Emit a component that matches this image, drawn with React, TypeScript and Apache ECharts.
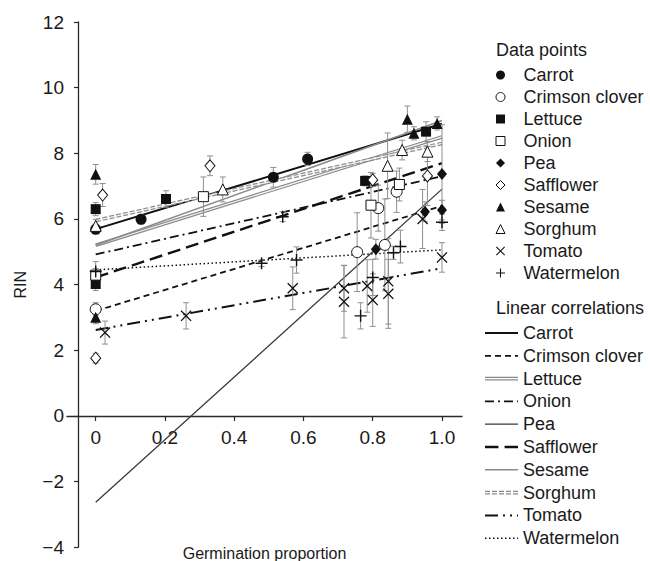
import React, { useEffect, useRef } from "react";
import * as echarts from "echarts";

const FONT = "'Liberation Sans', Arial, Helvetica, sans-serif";
const INK = "#1a1a1a";
const BAR_GRAY = "#8f8f8f";
const FIT_GRAY = "#8a8a8a";

// Axis ticks
const xTickValues = [0, 0.2, 0.4, 0.6, 0.8, 1.0];
const xTickLabels = ["0", "0.2", "0.4", "0.6", "0.8", "1.0"];

const speciesNames = [
  "Carrot",
  "Crimson clover",
  "Lettuce",
  "Onion",
  "Pea",
  "Safflower",
  "Sesame",
  "Sorghum",
  "Tomato",
  "Watermelon",
];

// Observations: [germination proportion, RIN, error]
const carrotPoints = [[0, 5.69, 0.15], [0.131, 5.99, 0.15], [0.513, 7.27, 0.3], [0.612, 7.83, 0.2]];
const crimsonCloverPoints = [[0, 3.25, 0.2], [0.755, 4.99, 1.2], [0.816, 6.33, 0.7], [0.835, 5.21, 1.4], [0.869, 6.83, 0.63]];
const lettucePoints = [[0, 6.3, 0.2], [0, 4.02, 0.2], [0.203, 6.61, 0.25], [0.778, 7.16, 0.15], [0.954, 8.66, 0.3]];
const onionPoints = [[0, 4.29, 0.2], [0.311, 6.68, 0.6], [0.795, 6.42, 1.0], [0.877, 7.05, 0.5]];
const peaPoints = [[0.809, 5.08, 0.3], [0.951, 6.22, 0.3], [1.0, 6.27, 0.3], [1.0, 7.37, 1.5]];
const safflowerPoints = [[0, 1.76, 0.15], [0.02, 6.73, 0.35], [0.33, 7.62, 0.3], [0.8, 7.19, 0.2], [0.958, 7.31, 0.9]];
const sesamePoints = [[0, 7.36, 0.3], [0, 3.01, 0.2], [0.9, 9.04, 0.4], [0.919, 8.61, 0.2], [0.986, 8.91, 0.2]];
const sorghumPoints = [[0, 5.79, 0.2], [0.367, 6.9, 0.38], [0.843, 7.62, 1.0], [0.885, 8.1, 0.3], [0.958, 8.05, 0.3]];
const tomatoPoints = [
  [0.027, 2.54, 0.35], [0.261, 3.05, 0.4], [0.569, 3.89, 0.65], [0.717, 3.89, 0.7], [0.717, 3.48, 1.1],
  [0.784, 3.96, 0.8], [0.8, 3.53, 0.8], [0.845, 4.1, 1.3], [0.845, 3.72, 1.05], [0.944, 6.0, 0.9], [1.0, 4.83, 0.45],
];
const watermelonPoints = [
  [0, 4.4, 0.3], [0.479, 4.65, 0.1], [0.54, 6.07, 0.15], [0.58, 4.75, 0.4], [0.765, 3.05, 0.4],
  [0.8, 4.22, 0.55], [0.86, 4.97, 0.2], [0.88, 5.16, 0.5], [1.0, 5.9, 0.25],
];

// Fitted linear correlations: endpoints at germination proportion 0 and 1
const carrotFit = [[0, 5.69], [1, 8.9]];
const crimsonCloverFit = [[0, 3.2], [1, 6.4]];
const lettuceFit = [[0, 5.2], [1, 8.5]];
const onionFit = [[0, 4.92], [1, 7.3]];
const peaFit = [[0, -2.63], [1, 6.91]];
const safflowerFit = [[0, 4.22], [1, 7.7]];
const sesameFit = [[0, 5.2], [1, 9.0]];
const sorghumFit = [[0, 5.95], [1, 8.3]];
const tomatoFit = [[0, 2.62], [1, 4.5]];
const watermelonFit = [[0, 4.45], [1, 5.06]];

const pointsBySpecies: Record<string, number[][]> = {
  Carrot: carrotPoints,
  "Crimson clover": crimsonCloverPoints,
  Lettuce: lettucePoints,
  Onion: onionPoints,
  Pea: peaPoints,
  Safflower: safflowerPoints,
  Sesame: sesamePoints,
  Sorghum: sorghumPoints,
  Tomato: tomatoPoints,
  Watermelon: watermelonPoints,
};

const fitBySpecies: Record<string, number[][]> = {
  Carrot: carrotFit,
  "Crimson clover": crimsonCloverFit,
  Lettuce: lettuceFit,
  Onion: onionFit,
  Pea: peaFit,
  Safflower: safflowerFit,
  Sesame: sesameFit,
  Sorghum: sorghumFit,
  Tomato: tomatoFit,
  Watermelon: watermelonFit,
};

// Marker shapes
const X_MARK = "path://M0,1L1,0L6,5L11,0L12,1L7,6L12,11L11,12L6,7L1,12L0,11L5,6Z";
const PLUS_MARK = "path://M5.3,0H6.7V5.3H12V6.7H6.7V12H5.3V6.7H0V5.3H5.3Z";

type Marker = { symbol: string; size: number | number[]; filled: boolean };
const markerStyle: Record<string, Marker> = {
  Carrot: { symbol: "circle", size: 11, filled: true },
  "Crimson clover": { symbol: "circle", size: 11, filled: false },
  Lettuce: { symbol: "rect", size: 10, filled: true },
  Onion: { symbol: "rect", size: 10, filled: false },
  Pea: { symbol: "diamond", size: [10, 12], filled: true },
  Safflower: { symbol: "diamond", size: [10, 12], filled: false },
  Sesame: { symbol: "triangle", size: 11, filled: true },
  Sorghum: { symbol: "triangle", size: 11, filled: false },
  Tomato: { symbol: X_MARK, size: 11, filled: true },
  Watermelon: { symbol: PLUS_MARK, size: 12, filled: true },
};

type FitLook = { color: string; width: number; dash: number[] | null; core?: boolean };
const fitStyle: Record<string, FitLook> = {
  Carrot: { color: "#111", width: 2, dash: null },
  "Crimson clover": { color: "#111", width: 1.8, dash: [6, 4] },
  Lettuce: { color: FIT_GRAY, width: 3.6, dash: null, core: true },
  Onion: { color: "#111", width: 1.8, dash: [9, 4, 2, 4] },
  Pea: { color: "#3a3a3a", width: 1.3, dash: null },
  Safflower: { color: "#111", width: 2.4, dash: [13, 6] },
  Sesame: { color: FIT_GRAY, width: 1.6, dash: null },
  Sorghum: { color: FIT_GRAY, width: 3.6, dash: [5, 2], core: true },
  Tomato: { color: "#111", width: 2, dash: [13, 5, 2, 5, 2, 5] },
  Watermelon: { color: "#111", width: 1.5, dash: [1.5, 2.5] },
};

const FIT_SUFFIX = " (linear)";
const fitName = (s: string) => s + FIT_SUFFIX;

// Legend sample strokes, built as filled strips so the dash rhythm is exact
const SAMPLE_W = 33;
function strip(x0: number, x1: number, y0: number, y1: number) {
  return `M${x0},${y0}H${x1}V${y1}H${x0}Z`;
}
function sampleIcon(look: FitLook): string {
  const segs: number[][] = [];
  if (!look.dash) {
    segs.push([0, SAMPLE_W]);
  } else {
    let x = 0;
    let k = 0;
    while (x < SAMPLE_W) {
      const len = look.dash[k % look.dash.length];
      if (k % 2 === 0) segs.push([x, Math.min(SAMPLE_W, x + len)]);
      x += len;
      k++;
    }
  }
  let d = "path://";
  if (look.core) {
    segs.forEach(([a, b]) => {
      d += strip(a, b, 0, 1.2) + strip(a, b, 2.6, 3.8);
    });
  } else {
    segs.forEach(([a, b]) => {
      d += strip(a, b, 0, look.width);
    });
  }
  return d;
}

function buildOption(): any {
  const series: any[] = [];

  speciesNames.forEach((s) => {
    const st = fitStyle[s];
    series.push({
      name: fitName(s),
      type: "line",
      data: fitBySpecies[s],
      symbol: "none",
      showSymbol: false,
      silent: true,
      z: 2,
      color: st.color,
      itemStyle: { color: st.color },
      lineStyle: { color: st.color, width: st.width, type: st.dash || "solid", cap: "butt" },
    });
    if (st.core) {
      series.push({
        name: fitName(s) + " core",
        type: "line",
        data: fitBySpecies[s],
        symbol: "none",
        showSymbol: false,
        silent: true,
        z: 2,
        lineStyle: { color: "#f4f4f4", width: 1.3, type: "solid" },
      });
    }
  });

  const allBars: number[][] = [];
  speciesNames.forEach((s) => pointsBySpecies[s].forEach((p) => allBars.push(p)));
  series.push({
    name: "error bars",
    type: "custom",
    z: 3,
    silent: true,
    data: allBars,
    encode: { x: 0, y: 1 },
    renderItem: (_params: any, api: any) => {
      const x = api.value(0);
      const y = api.value(1);
      const e = api.value(2);
      const hi = api.coord([x, y + e]);
      const lo = api.coord([x, y - e]);
      const c = 3;
      const style = { stroke: BAR_GRAY, lineWidth: 1 };
      return {
        type: "group",
        children: [
          { type: "line", shape: { x1: hi[0], y1: hi[1], x2: lo[0], y2: lo[1] }, style },
          { type: "line", shape: { x1: hi[0] - c, y1: hi[1], x2: hi[0] + c, y2: hi[1] }, style },
          { type: "line", shape: { x1: lo[0] - c, y1: lo[1], x2: lo[0] + c, y2: lo[1] }, style },
        ],
      };
    },
  });

  speciesNames.forEach((s) => {
    const m = markerStyle[s];
    series.push({
      name: s,
      type: "scatter",
      z: 4,
      silent: true,
      symbol: m.symbol,
      symbolSize: m.size,
      symbolKeepAspect: true,
      data: pointsBySpecies[s].map((p) => [p[0], p[1]]),
      itemStyle: {
        color: m.filled ? "#111" : "#ffffff",
        borderColor: "#111",
        borderWidth: m.filled ? 0 : 1,
        opacity: 1,
      },
    });
  });

  const textStyle = { fontFamily: FONT, color: INK, fontSize: 18 };

  return {
    animation: false,
    backgroundColor: "#ffffff",
    textStyle: { fontFamily: FONT },
    grid: { left: 67, right: 188, top: 22, bottom: 13.7, containLabel: false, outerBoundsMode: "none" },
    xAxis: {
      type: "value",
      position: "bottom",
      offset: -131.3,
      min: -0.0829,
      max: 1.0578,
      name: "Germination proportion",
      nameLocation: "middle",
      nameGap: 129,
      nameTextStyle: { ...textStyle, fontSize: 16 },
      axisLine: { onZero: false, lineStyle: { color: "#2a2a2a", width: 1.3 } },
      axisTick: { show: true, inside: false, length: 5, customValues: xTickValues, lineStyle: { color: "#2a2a2a", width: 1.2 } },
      axisLabel: {
        customValues: xTickValues,
        margin: 12,
        ...textStyle,
        fontSize: 19,
        formatter: (v: number) => {
          const i = xTickValues.findIndex((t) => Math.abs(t - v) < 1e-6);
          return i >= 0 ? xTickLabels[i] : "";
        },
      },
      splitLine: { show: false },
    },
    yAxis: {
      type: "value",
      min: -4,
      max: 12,
      interval: 2,
      offset: -11,
      name: "RIN",
      nameLocation: "middle",
      nameGap: 50,
      nameTextStyle: { ...textStyle, fontSize: 16 },
      axisLine: { show: true, onZero: false, lineStyle: { color: "#2a2a2a", width: 1.3 } },
      axisTick: { show: true, inside: false, length: 4, lineStyle: { color: "#2a2a2a", width: 1.2 } },
      axisLabel: {
        margin: 14,
        ...textStyle,
        fontSize: 19,
        formatter: (v: number) => (v < 0 ? "\u2212" + Math.abs(v) : String(v)),
      },
      splitLine: { show: false },
    },
    legend: [
      {
        orient: "vertical",
        left: 495.5,
        top: 64,
        padding: 0,
        itemGap: 0,
        itemWidth: 9,
        itemHeight: 9,
        selectedMode: false,
        symbolKeepAspect: true,
        itemStyle: { borderWidth: "inherit" },
        textStyle: { ...textStyle, lineHeight: 22, padding: [0, 0, 0, 13.5] },
        data: speciesNames,
      },
      {
        orient: "vertical",
        left: 485,
        top: 321.6,
        padding: 0,
        itemGap: 0,
        itemWidth: SAMPLE_W,
        itemHeight: 12,
        selectedMode: false,
        symbolKeepAspect: true,
        itemStyle: { borderWidth: 0 },
        textStyle: { ...textStyle, lineHeight: 22.8 },
        formatter: (n: string) => n.replace(FIT_SUFFIX, ""),
        data: speciesNames.map((s) => ({ name: fitName(s), icon: sampleIcon(fitStyle[s]) })),
      },
    ],
    graphic: [
      {
        type: "text",
        x: 496,
        y: 50,
        silent: true,
        style: { text: "Data points", fontSize: 18, fontFamily: FONT, fill: INK, align: "left", verticalAlign: "middle" },
      },
      {
        type: "text",
        x: 496,
        y: 308,
        silent: true,
        style: { text: "Linear correlations", fontSize: 18, fontFamily: FONT, fill: INK, align: "left", verticalAlign: "middle" },
      },
    ],
    series,
  };
}

export default function App() {
  const ref = useRef<HTMLDivElement>(null);
  useEffect(() => {
    document.body.style.margin = "0";
    const chart = echarts.init(ref.current!, undefined, { renderer: "svg" });
    chart.setOption(buildOption());
    return () => chart.dispose();
  }, []);
  return <div ref={ref} style={{ width: 650, height: 561 }} />;
}
